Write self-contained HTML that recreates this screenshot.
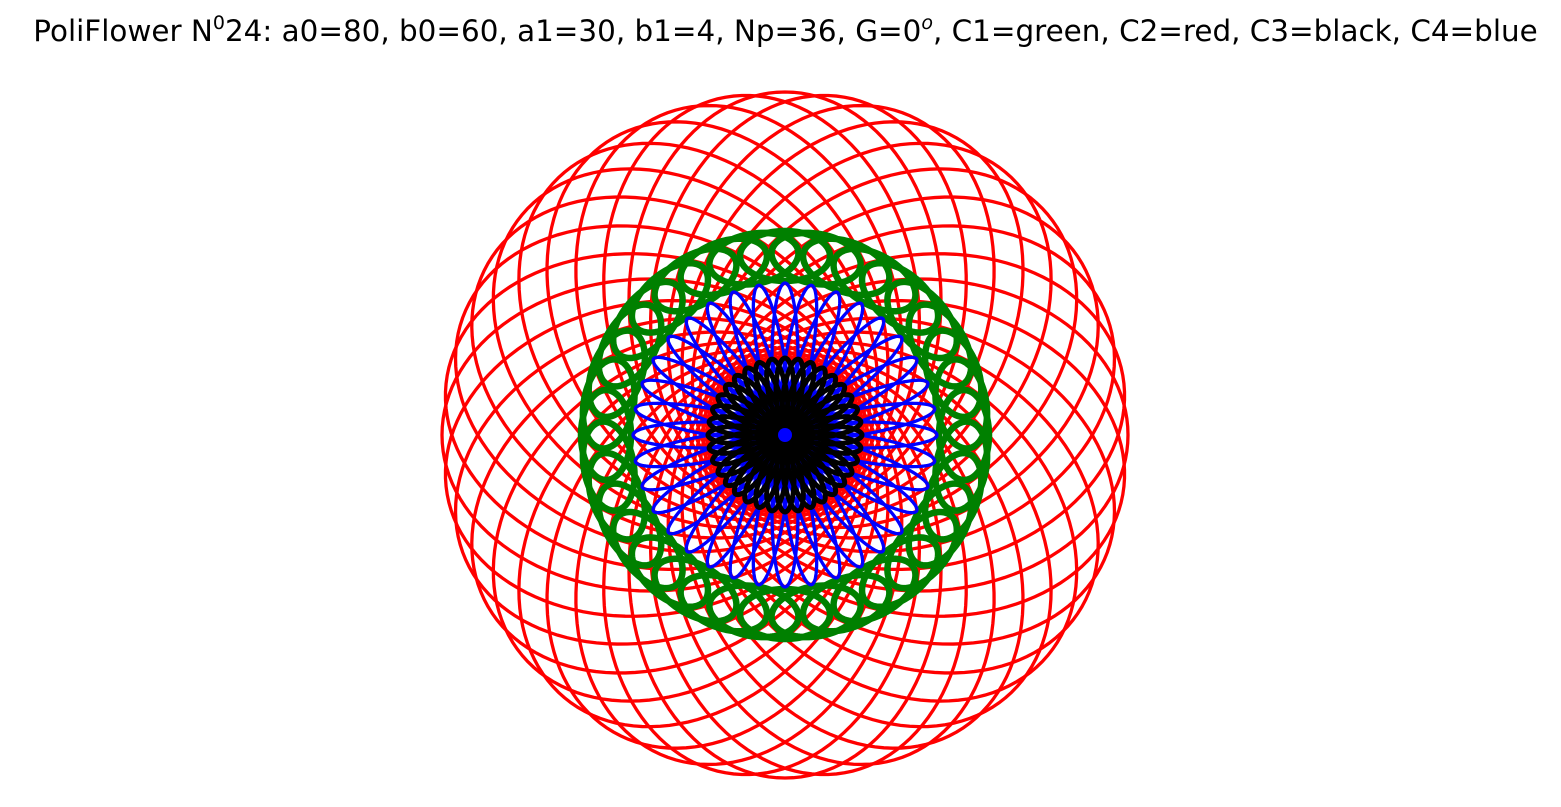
<!DOCTYPE html>
<html><head><meta charset="utf-8"><style>
body{margin:0;background:#fff;width:1561px;height:807px;overflow:hidden;font-family:"DejaVu Sans","Liberation Sans",sans-serif}
#title{position:absolute;left:0;width:1571px;top:14px;text-align:center;font-size:29.4px;color:#000;white-space:nowrap}
sup{font-size:19px;vertical-align:12px;line-height:0}
svg{position:absolute;left:0;top:0}
</style></head><body>
<div id="title">PoliFlower N<sup>0</sup>24: a0=80, b0=60, a1=30, b1=4, Np=36, G=0<sup><i>o</i></sup>, C1=green, C2=red, C3=black, C4=blue</div>
<svg id="chart" width="1561" height="807"></svg>
<script>
// curve families: [offset distance, radial semi-axis, tangential semi-axis] in px
const families = ["red","green","blue","black"];
const famOffset = [135, 179, 78, 45];
const famRadial = [208, 25, 74, 32];
const famTangent = [156, 45, 13, 9];
const famWidth = [3.3, 6.5, 3.3, 5];
const famColor = ["#ff0000","#008000","#0000ff","#000000"];
const petalCount = 36;
const cx = 785, cy = 435;
const svg = document.getElementById('chart');
const NS = 'http://www.w3.org/2000/svg';
const core = document.createElementNS(NS,'circle');
core.setAttribute('cx',cx);core.setAttribute('cy',cy);core.setAttribute('r',28);core.setAttribute('fill','#000');


families.forEach((f,i)=>{
  const g = document.createElementNS(NS,'g');
  
  
  for(let k=0;k<petalCount;k++){
    const th = k*2*Math.PI/petalCount;
    let d='';
    for(let s=0;s<=120;s++){
      const t=s*2*Math.PI/120;
      const u=famOffset[i]+famRadial[i]*Math.cos(t), v=famTangent[i]*Math.sin(t);
      const x=cx+u*Math.cos(th)-v*Math.sin(th), y=cy-(u*Math.sin(th)+v*Math.cos(th));
      d+=(s?'L':'M')+x.toFixed(2)+' '+y.toFixed(2);
    }
    const p=document.createElementNS(NS,'path');
    p.setAttribute('d',d+'Z');p.setAttribute('fill','none');
    p.setAttribute('stroke',famColor[i]);p.setAttribute('stroke-width',famWidth[i]);
    
    
    g.appendChild(p);
  }
  svg.appendChild(g);
  if(f==='black') svg.appendChild(core);
});
const dot=document.createElementNS(NS,'circle');
dot.setAttribute('cx',cx);dot.setAttribute('cy',cy);dot.setAttribute('r',7);dot.setAttribute('fill','#0000ff');


svg.appendChild(dot);
</script>
</body></html>
